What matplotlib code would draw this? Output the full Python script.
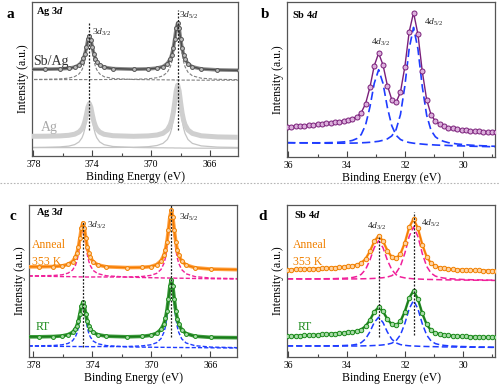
import matplotlib
matplotlib.use("Agg")
import matplotlib.pyplot as plt
from matplotlib.ticker import MultipleLocator, FixedLocator

plt.rcParams['font.family'] = ['Liberation Serif', 'DejaVu Serif']
plt.rcParams['mathtext.fontset'] = 'custom'
plt.rcParams['mathtext.rm'] = 'Liberation Serif'
plt.rcParams['mathtext.it'] = 'Liberation Serif:italic'
plt.rcParams['mathtext.bf'] = 'Liberation Serif:bold'
plt.rcParams['mathtext.bfit'] = 'Liberation Serif:bold:italic'

# ---------------- Ag 3d (panels a, c) ----------------
e_ag = [378.3, 377.2, 376.2, 375.6, 375.2, 374.9, 374.7, 374.6, 374.5, 374.4,
        374.3, 374.2, 374.1, 374.0, 373.9, 373.8, 373.7, 373.5, 373.2, 372.6,
        371.2, 370.2, 369.6, 369.2, 368.9, 368.7, 368.6, 368.5, 368.4, 368.3,
        368.2, 368.1, 368.0, 367.9, 367.8, 367.7, 367.5, 367.2, 366.6, 365.5, 364.0]
# panel c is recorded about 0.45 eV higher
e_ag_c = [378.75, 377.65, 376.65, 376.05, 375.65, 375.35, 375.15, 375.05, 374.95, 374.85,
          374.75, 374.65, 374.55, 374.45, 374.35, 374.25, 374.15, 373.95, 373.65, 373.05,
          371.65, 370.65, 370.05, 369.65, 369.35, 369.15, 369.05, 368.95, 368.85, 368.75,
          368.65, 368.55, 368.45, 368.35, 368.25, 368.15, 367.95, 367.65, 367.05, 365.95, 364.0]

# panel a
sbag_data = [86.7, 86.8, 87.1, 87.7, 88.9, 91.1, 94.5, 97.6, 102.2, 108.9,
             116.6, 120.4, 116.5, 108.8, 102.1, 97.5, 94.4, 91.0, 88.8, 87.4,
             86.8, 87.1, 87.9, 89.4, 92.5, 97.2, 101.5, 107.9, 117.1, 127.7,
             133.0, 127.6, 117.0, 107.8, 101.4, 97.1, 92.3, 89.2, 87.1, 86.1, 85.7]
sbag_fit1 = [76.5, 76.7, 77.1, 77.9, 79.4, 82.1, 86.3, 90.1, 95.9, 104.1,
             113.6, 118.3, 113.6, 104.1, 95.9, 90.1, 86.3, 82.1, 79.3, 77.5,
             76.5, 76.3, 76.2, 76.2, 76.1, 76.1, 76.1, 76.1, 76.0, 76.0,
             76.0, 76.0, 76.0, 75.9, 75.9, 75.9, 75.9, 75.9, 75.8, 75.8, 75.8]
sbag_fit2 = [76.4, 76.4, 76.4, 76.4, 76.4, 76.4, 76.4, 76.4, 76.4, 76.4,
             76.4, 76.4, 76.4, 76.4, 76.4, 76.4, 76.4, 76.4, 76.5, 76.5,
             76.7, 77.2, 78.3, 80.2, 83.8, 89.3, 94.3, 101.8, 112.6, 125.0,
             131.2, 125.0, 112.6, 101.8, 94.3, 89.3, 83.8, 80.2, 77.8, 76.7, 76.3]
ag_data = [19.7, 19.8, 20.1, 20.7, 21.8, 24.0, 27.3, 30.3, 34.8, 41.2,
           48.7, 52.4, 48.7, 41.2, 34.7, 30.2, 27.2, 23.9, 21.7, 20.3,
           19.7, 20.1, 21.0, 22.7, 26.1, 31.3, 36.0, 43.1, 53.3, 65.0,
           70.9, 65.0, 53.3, 43.0, 35.9, 31.2, 26.0, 22.6, 20.2, 19.1, 18.7]
ag_fit1 = [8.5, 8.7, 9.1, 9.9, 11.4, 14.1, 18.3, 22.1, 27.9, 36.1,
           45.6, 50.3, 45.6, 36.1, 27.9, 22.1, 18.3, 14.1, 11.3, 9.5,
           8.5, 8.3, 8.2, 8.2, 8.1, 8.1, 8.1, 8.1, 8.0, 8.0,
           8.0, 8.0, 8.0, 7.9, 7.9, 7.9, 7.9, 7.9, 7.8, 7.8, 7.8]
ag_fit2 = [8.4, 8.4, 8.4, 8.4, 8.4, 8.4, 8.4, 8.4, 8.4, 8.4,
           8.4, 8.4, 8.4, 8.4, 8.4, 8.4, 8.4, 8.4, 8.5, 8.5,
           8.7, 9.3, 10.5, 12.6, 16.5, 22.5, 28.0, 36.2, 48.0, 61.5,
           68.3, 61.5, 48.0, 36.2, 28.0, 22.5, 16.5, 12.6, 10.1, 8.9, 8.5]

# panel c
ag_anneal = [90.2, 90.2, 90.5, 91.1, 92.7, 95.5, 100.0, 104.0, 110.2, 118.9,
             129.0, 134.1, 129.0, 118.9, 110.1, 103.9, 99.9, 95.3, 92.2, 90.2,
             89.4, 89.6, 90.4, 92.4, 96.2, 102.1, 107.4, 115.4, 127.1, 140.3,
             146.9, 140.2, 127.0, 115.3, 107.2, 101.8, 95.8, 92.0, 89.3, 87.9, 87.3]
ag_anneal_fit1 = [81.2, 81.2, 81.5, 82.2, 83.9, 86.9, 91.7, 96.0, 102.6, 111.9,
                  122.7, 128.1, 122.7, 111.9, 102.5, 95.9, 91.5, 86.6, 83.4, 81.2,
                  79.9, 79.5, 79.3, 79.2, 79.1, 79.0, 79.0, 79.0, 79.0, 78.9,
                  78.9, 78.9, 78.9, 78.8, 78.8, 78.8, 78.8, 78.7, 78.5, 78.3, 78.0]
ag_anneal_fit2 = [81.0, 80.8, 80.6, 80.4, 80.4, 80.3, 80.2, 80.2, 80.2, 80.1,
                  80.1, 80.1, 80.1, 80.0, 80.0, 80.0, 80.0, 80.0, 80.1, 80.0,
                  80.0, 80.5, 81.6, 83.6, 87.5, 93.7, 99.3, 107.8, 119.9, 133.9,
                  140.9, 133.8, 119.8, 107.7, 99.2, 93.6, 87.4, 83.2, 80.4, 78.9, 78.3]
ag_rt = [20.2, 20.2, 20.5, 21.1, 22.4, 24.6, 28.2, 31.3, 36.1, 43.0,
         50.8, 54.8, 50.8, 43.0, 36.1, 31.3, 28.2, 24.6, 22.4, 20.8,
         20.2, 20.6, 21.7, 23.7, 27.6, 33.4, 38.6, 46.3, 57.7, 70.7,
         77.3, 70.6, 57.6, 46.2, 38.3, 33.1, 27.2, 23.4, 20.8, 19.6, 19.3]
ag_rt_fit1 = [11.2, 11.2, 11.5, 12.2, 13.6, 16.2, 20.3, 23.9, 29.5, 37.5,
              46.8, 51.4, 46.8, 37.5, 29.5, 23.8, 20.2, 16.0, 13.3, 11.4,
              10.1, 9.9, 9.8, 9.7, 9.7, 9.7, 9.6, 9.6, 9.6, 9.6,
              9.6, 9.6, 9.5, 9.5, 9.5, 9.5, 9.5, 9.4, 9.4, 9.2, 9.0]
ag_rt_fit2 = [11.0, 10.8, 10.7, 10.6, 10.6, 10.5, 10.5, 10.5, 10.5, 10.4,
              10.4, 10.4, 10.4, 10.4, 10.4, 10.4, 10.4, 10.3, 10.5, 10.4,
              10.5, 11.1, 12.2, 14.3, 18.4, 24.8, 30.5, 39.1, 51.4, 65.6,
              72.6, 65.5, 51.3, 39.0, 30.4, 24.6, 18.2, 14.0, 11.3, 9.9, 9.3]

# ---------------- Sb 4d (panels b, d) ----------------
e_sb = [36.05, 35.90, 35.75, 35.60, 35.45, 35.30, 35.15, 35.00, 34.85, 34.70,
        34.55, 34.40, 34.25, 34.10, 33.95, 33.80, 33.65, 33.50, 33.35, 33.20,
        33.05, 32.90, 32.75, 32.60, 32.45, 32.30, 32.15, 32.00, 31.85, 31.70,
        31.55, 31.40, 31.25, 31.10, 30.95, 30.80, 30.65, 30.50, 30.35, 30.20,
        30.05, 29.90, 29.75, 29.60, 29.45, 29.30, 29.15, 29.00, 28.85]

# panel b
sb_data = [30.1, 30.4, 30.8, 31.1, 31.5, 31.9, 32.3, 32.8, 33.2, 33.7,
           34.2, 34.8, 35.5, 36.1, 37.1, 38.3, 40.3, 44.3, 53.2, 69.6,
           91.4, 103.8, 92.1, 71.5, 57.5, 54.6, 64.9, 90.1, 125.1, 144.4,
           122.9, 85.6, 57.5, 42.4, 35.8, 32.6, 30.8, 29.5, 28.7, 27.9,
           27.3, 26.8, 26.3, 26.0, 25.8, 25.5, 25.3, 25.1, 24.9]
sb_fit1 = [14.3, 14.3, 14.2, 14.2, 14.2, 14.2, 14.2, 14.2, 14.2, 14.3,
           14.4, 14.5, 14.8, 15.1, 15.7, 16.6, 18.4, 22.4, 31.9, 49.9,
           73.8, 87.3, 73.7, 49.6, 31.4, 21.7, 17.5, 15.6, 14.5, 13.8,
           13.3, 12.9, 12.5, 12.3, 12.0, 11.8, 11.7, 11.5, 11.3, 11.2,
           11.1, 11.0, 10.8, 10.7, 10.6, 10.5, 10.4, 10.3, 10.2]
sb_fit2 = [14.3, 14.2, 14.2, 14.1, 14.1, 14.0, 14.0, 13.9, 13.9, 13.8,
           13.8, 13.8, 13.8, 13.8, 13.9, 13.9, 14.0, 14.2, 14.4, 14.7,
           15.2, 15.7, 16.7, 18.1, 21.0, 27.4, 42.4, 70.8, 108.5, 129.6,
           108.3, 70.4, 41.9, 26.7, 20.2, 17.1, 15.5, 14.3, 13.7, 13.0,
           12.6, 12.2, 11.9, 11.6, 11.4, 11.2, 11.0, 10.8, 10.7]

# panel d
sb_anneal = [87.3, 87.4, 87.6, 87.7, 88.0, 88.1, 88.4, 88.5, 88.8, 89.0,
             89.3, 89.5, 89.9, 90.2, 90.6, 91.2, 92.1, 94.0, 98.1, 105.7,
             115.6, 121.3, 115.9, 106.5, 100.0, 98.6, 103.1, 114.2, 129.6, 138.1,
             128.7, 112.5, 100.3, 93.7, 90.8, 89.4, 88.7, 88.1, 87.8, 87.4,
             87.3, 87.0, 86.9, 86.7, 86.7, 86.5, 86.4, 86.4, 86.4]
sb_anneal_fit1 = [78.2, 78.2, 78.2, 78.1, 78.1, 78.1, 78.2, 78.2, 78.2, 78.3,
                  78.3, 78.4, 78.6, 78.7, 79.0, 79.5, 80.5, 82.6, 87.5, 96.9,
                  109.4, 116.3, 109.3, 96.8, 87.4, 82.3, 80.1, 79.1, 78.6, 78.2,
                  78.0, 77.8, 77.6, 77.5, 77.4, 77.3, 77.2, 77.1, 77.1, 77.0,
                  77.0, 76.9, 76.9, 76.8, 76.8, 76.7, 76.7, 76.6, 76.6]
sb_anneal_fit2 = [78.1, 78.1, 78.1, 78.1, 78.0, 78.0, 78.0, 78.0, 78.0, 78.0,
                  78.0, 78.0, 78.0, 78.0, 78.0, 78.1, 78.1, 78.2, 78.3, 78.4,
                  78.6, 78.9, 79.3, 80.0, 81.3, 84.1, 90.9, 103.7, 120.6, 130.1,
                  120.6, 103.5, 90.7, 83.9, 80.9, 79.6, 78.9, 78.4, 78.1, 77.8,
                  77.6, 77.4, 77.3, 77.2, 77.1, 77.0, 76.9, 76.9, 76.8]
sb_rt = [20.7, 21.0, 21.2, 21.4, 21.6, 21.8, 22.1, 22.3, 22.6, 22.9,
         23.1, 23.5, 23.8, 24.2, 24.7, 25.1, 25.9, 27.5, 30.8, 36.9,
         45.2, 49.8, 45.6, 37.9, 32.7, 31.7, 35.7, 45.5, 59.0, 66.4,
         58.0, 43.6, 32.6, 26.6, 24.1, 22.8, 22.1, 21.6, 21.2, 21.0,
         20.8, 20.6, 20.4, 20.3, 20.2, 20.1, 20.0, 19.9, 19.8]
sb_rt_fit1 = [11.1, 11.1, 11.1, 11.1, 11.1, 11.1, 11.1, 11.1, 11.1, 11.1,
              11.2, 11.2, 11.3, 11.5, 11.7, 12.0, 12.7, 14.3, 18.1, 25.2,
              34.6, 39.8, 34.5, 25.0, 17.9, 14.1, 12.4, 11.7, 11.2, 11.0,
              10.8, 10.6, 10.5, 10.4, 10.3, 10.2, 10.1, 10.1, 10.0, 10.0,
              9.9, 9.9, 9.8, 9.8, 9.7, 9.7, 9.7, 9.6, 9.6]
sb_rt_fit2 = [11.1, 11.1, 11.1, 11.0, 11.0, 11.0, 11.0, 11.0, 11.0, 11.0,
              11.0, 10.9, 10.9, 11.0, 11.0, 11.0, 11.0, 11.1, 11.2, 11.3,
              11.5, 11.7, 12.1, 12.7, 13.8, 16.3, 22.2, 33.4, 48.2, 56.6,
              48.2, 33.3, 22.0, 16.1, 13.4, 12.3, 11.6, 11.2, 10.9, 10.7,
              10.5, 10.4, 10.2, 10.1, 10.0, 10.0, 9.9, 9.8, 9.8]

# peak positions for the guide lines: (energy, bottom, top)
a_guides = [(374.2, 26, 133), (368.2, 26, 146)]
c_guides = [(374.65, 10, 135), (368.65, 20, 152)]
d_guides = [(32.9, 20, 120), (31.7, 22, 145)]

ag_major = [378, 374, 370, 366]
ag_minor = [376, 372, 368]

W, H = 500, 386
fig = plt.figure(figsize=(W / 100, H / 100), dpi=100)


def px_axes(x0, y0, x1, y1):
    return fig.add_axes([x0 / W, 1 - y1 / H, (x1 - x0) / W, (y1 - y0) / H])


def style(ax, xlim, ymax, major, minor):
    ax.set_xlim(*xlim)
    ax.set_ylim(0, ymax)
    ax.set_yticks([])
    if isinstance(major, list):
        ax.xaxis.set_major_locator(FixedLocator(major))
        ax.xaxis.set_minor_locator(FixedLocator(minor))
    else:
        ax.xaxis.set_major_locator(MultipleLocator(major))
        ax.xaxis.set_minor_locator(MultipleLocator(minor))
    ax.tick_params(axis='x', which='major', direction='in', length=4, width=0.8,
                   labelsize=7, pad=3, color='#444')
    ax.tick_params(axis='x', which='minor', direction='in', length=2.5, width=0.8,
                   color='#444')
    for s in ax.spines.values():
        s.set_color('#555')
        s.set_linewidth(0.9)
    ax.set_xlabel('Binding Energy (eV)', fontsize=8.5, labelpad=1)
    ax.set_ylabel('Intensity (a.u.)', fontsize=8.5, labelpad=2)


def ftext(x, y, s, **kw):
    fig.text(x / W, 1 - y / H, s, **kw)


def guides(ax, lst):
    for e, y0, y1 in lst:
        ax.plot([e, e], [y0, y1], color='#222', lw=0.9, ls=(0, (1.6, 1.2)), zorder=5)


def data_line(ax, x, y, line, face, edge, band, bw=2.6, ms=3.2):
    if bw:
        ax.plot(x, y, color=band, lw=bw, zorder=3, solid_capstyle='round')
    ax.plot(x, y, color=line, lw=1.0, marker='o', ms=ms, mfc=face, mec=edge,
            mew=0.7, zorder=4)


# ---- panel a ----
ax = px_axes(32, 2, 238, 156)
ax.plot(e_ag, ag_fit1, color='#c4c4c4', lw=0.9, zorder=2)
ax.plot(e_ag, ag_fit2, color='#c4c4c4', lw=0.9, zorder=2)
ax.plot(e_ag, ag_data, color='#cfcfcf', lw=3.6, zorder=3, solid_capstyle='round')
ax.plot(e_ag, sbag_fit1, color='#808080', lw=0.8, ls=(0, (3, 1.5)), zorder=2)
ax.plot(e_ag, sbag_fit2, color='#808080', lw=0.8, ls=(0, (3, 1.5)), zorder=2)
data_line(ax, e_ag, sbag_data, '#4a4a4a', '#bdbdbd', '#555555', '#8a8a8a', ms=2.8)
guides(ax, a_guides)
style(ax, (378.1, 364.1), 154, ag_major, ag_minor)

# ---- panel b ----
ax = px_axes(287, 2, 495, 157)
ax.plot(e_sb, sb_fit1, color='#1f3cff', lw=1.2, ls=(0, (5, 2.5)), zorder=2)
ax.plot(e_sb, sb_fit2, color='#1f3cff', lw=1.2, ls=(0, (5, 2.5)), zorder=2)
data_line(ax, e_sb, sb_data, '#7a1f7a', '#dcb0dc', '#7a1f7a', None, bw=0, ms=3.6)
style(ax, (36.05, 28.9), 155, 2, 1)

# ---- panel c ----
ax = px_axes(29, 205, 237, 357)
ax.plot(e_ag_c, ag_anneal_fit1, color='#f0209a', lw=1.0, ls=(0, (3, 1.5)), zorder=2)
ax.plot(e_ag_c, ag_anneal_fit2, color='#f0209a', lw=1.0, ls=(0, (3, 1.5)), zorder=2)
ax.plot(e_ag_c, ag_rt_fit1, color='#1f3cff', lw=1.0, ls=(0, (3, 1.5)), zorder=2)
ax.plot(e_ag_c, ag_rt_fit2, color='#1f3cff', lw=1.0, ls=(0, (3, 1.5)), zorder=2)
data_line(ax, e_ag_c, ag_anneal, '#f57c00', '#ffd3a3', '#f08000', '#ffa040', ms=2.8)
data_line(ax, e_ag_c, ag_rt, '#1a7a1a', '#a9dca9', '#1a8a1a', '#3a9a3a', ms=2.8)
guides(ax, c_guides)
style(ax, (378.3, 364.2), 152, ag_major, ag_minor)

# ---- panel d ----
ax = px_axes(287, 205, 495, 357)
ax.plot(e_sb, sb_anneal_fit1, color='#f0209a', lw=1.1, ls=(0, (4, 2)), zorder=2)
ax.plot(e_sb, sb_anneal_fit2, color='#f0209a', lw=1.1, ls=(0, (4, 2)), zorder=2)
ax.plot(e_sb, sb_rt_fit1, color='#1f3cff', lw=1.1, ls=(0, (4, 2)), zorder=2)
ax.plot(e_sb, sb_rt_fit2, color='#1f3cff', lw=1.1, ls=(0, (4, 2)), zorder=2)
data_line(ax, e_sb, sb_anneal, '#f57c00', '#ffd3a3', '#f08000', '#ffa040', bw=1.8)
data_line(ax, e_sb, sb_rt, '#1a7a1a', '#a9dca9', '#1a8a1a', '#3a9a3a', bw=1.8)
guides(ax, d_guides)
style(ax, (36.05, 28.9), 152, 2, 1)

# separator
fig.add_artist(plt.Line2D([0.0, 1.0], [1 - 183 / H, 1 - 183 / H], color='#b5b5b5',
                          lw=0.8, ls=(0, (1.5, 1.5))))

# panel letters
for x, y, s in [(10, 15, 'a'), (265, 15, 'b'), (13, 217, 'c'), (263, 217, 'd')]:
    ftext(x, y, s, fontsize=11, fontweight='bold', ha='center', va='center')

# element labels
for x, y, s in [(36, 11, r'Ag 3$\mathbfit{d}$'), (292, 14, r'Sb 4$\mathbfit{d}$'),
                (36, 213, r'Ag 3$\mathbfit{d}$'), (294, 215, r'Sb 4$\mathbfit{d}$')]:
    ftext(x, y, s, fontsize=7.5, fontweight='bold', ha='left', va='center')

# peak labels
pk = dict(fontsize=6.8, ha='left', va='center', color='#222')
ftext(92, 32, r'3$d_{3/2}$', **pk)
ftext(179, 15, r'3$d_{5/2}$', **pk)
ftext(371, 42, r'4$d_{3/2}$', **pk)
ftext(424, 22, r'4$d_{5/2}$', **pk)
ftext(87, 225, r'3$d_{3/2}$', **pk)
ftext(179, 217, r'3$d_{5/2}$', **pk)
ftext(367, 226, r'4$d_{3/2}$', **pk)
ftext(421, 223, r'4$d_{5/2}$', **pk)

# sample labels
ftext(33, 61, 'Sb/Ag', fontsize=10, color='#333', ha='left', va='center')
ftext(41, 127, 'Ag', fontsize=10, color='#aaaaaa', ha='left', va='center')
ftext(32, 245, 'Anneal', fontsize=8.5, color='#f08000', ha='left', va='center')
ftext(32, 262, '353 K', fontsize=8.5, color='#f08000', ha='left', va='center')
ftext(36, 327, 'RT', fontsize=8.5, color='#1a8a1a', ha='left', va='center')
ftext(293, 245, 'Anneal', fontsize=8.5, color='#f08000', ha='left', va='center')
ftext(293, 262, '353 K', fontsize=8.5, color='#f08000', ha='left', va='center')
ftext(298, 327, 'RT', fontsize=8.5, color='#1a8a1a', ha='left', va='center')

fig.savefig('out.png', dpi=100)
